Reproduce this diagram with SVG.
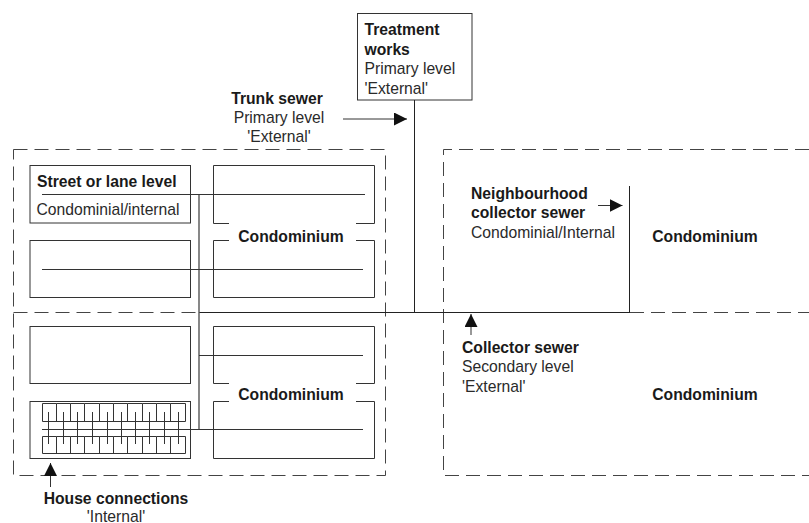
<svg xmlns="http://www.w3.org/2000/svg" width="809" height="523" viewBox="0 0 809 523">
<defs>
<style>
text{font-family:"Liberation Sans",Arial,sans-serif;font-size:15.7px;fill:#2a2a2a}
.b{font-weight:bold;fill:#1a1a1a}
.m{text-anchor:middle}
.box{fill:#fff;stroke:#333;stroke-width:1}
.open{fill:none;stroke:#333;stroke-width:1}
.dash{fill:none;stroke:#444;stroke-width:1;stroke-dasharray:14 7}
.pipe{fill:none;stroke:#222;stroke-width:1}
.thick{fill:none;stroke:#555;stroke-width:1.4}
.thin{fill:none;stroke:#333;stroke-width:1}
</style>
<marker id="arrow" markerUnits="userSpaceOnUse" markerWidth="14" markerHeight="14" refX="13" refY="6.5" orient="auto"><path d="M0,0L13,6.5L0,13Z" fill="#111"/></marker>
</defs>
<g id="zones">
<path class="dash" d="M13.500,149.500H385.500V475.500H13.500Z"/>
<path class="dash" d="M13.500,312.500H385.500"/>
<path class="dash" d="M809,149.500H443.500V475.500H809"/>
<path class="dash" d="M630,312.500H809"/>
</g>
<g id="street-top-left"><rect class="box" x="30" y="165.500" width="160.500" height="57.500"/><text class="b" x="37" y="186.500">Street or lane level</text><text x="36.500" y="215">Condominial/internal</text></g>
<g id="street-2"><rect class="box" x="30" y="240.500" width="160.500" height="57"/></g>
<g id="street-3"><rect class="box" x="30" y="326.500" width="160.500" height="57"/></g>
<g id="street-4"><rect class="box" x="30" y="401.500" width="160.500" height="57"/></g>
<g id="condo-a"><path class="open" d="M229,223.500H213.500V165.500H374.500V223.500H356"/><path class="open" d="M229,240.500H213.500V297.500H374.500V240.500H356"/><text class="b m" x="291" y="241.500">Condominium</text></g>
<g id="condo-b"><path class="open" d="M229,383.500H213.500V326.500H374.500V383.500H356"/><path class="open" d="M229,401.500H213.500V458.500H374.500V401.500H356"/><text class="b m" x="291" y="400">Condominium</text></g>
<g id="condo-c"><text class="b m" x="705" y="241.500">Condominium</text></g>
<g id="condo-d"><text class="b m" x="705" y="400">Condominium</text></g>
<g id="treatment"><rect class="box" x="357.500" y="13.500" width="114.500" height="86.500"/><text class="b" x="364.500" y="35">Treatment</text><text class="b" x="364.500" y="55">works</text><text x="364.500" y="74">Primary level</text><text x="364.500" y="94">'External'</text></g>
<g id="connectors">
<path class="pipe" d="M414.500,100V312.500"/>
<path class="pipe" d="M199,312.500H630"/>
<path class="pipe" d="M629.500,186V312.500"/>
<path class="thick" d="M199,194V429.500"/>
<path class="thin" d="M42,194.500H365"/>
<path class="thin" d="M42,269.500H363"/>
<path class="thin" d="M199,355.500H363"/>
<path class="thin" d="M42,429.500H363"/>
<path class="thin" d="M343,119H407" marker-end="url(#arrow)"/>
<path class="thin" d="M598,205.500H622.500" marker-end="url(#arrow)"/>
<path class="thin" d="M471,335V314" marker-end="url(#arrow)"/>
<path class="thin" d="M50.500,487V463" marker-end="url(#arrow)"/>
</g>
<g id="house-connections">
<path class="thin" d="M42.500,421.500V403.500H56.500V421.500M56.500,403.500H70.500V421.500M70.500,403.500H84.500V421.500M84.500,403.500H99.500V421.500M99.500,403.500H113.500V421.500M113.500,403.500H127.500V421.500M127.500,403.500H142.500V421.500M142.500,403.500H156.500V421.500M156.500,403.500H170.500V421.500M170.500,403.500H185.500V421.500H42.500"/>
<path class="thin" d="M42.500,436.500V453.500H185.500V436.500H170.500V453.500M170.500,436.500H156.500V453.500M156.500,436.500H142.500V453.500M142.500,436.500H127.500V453.500M127.500,436.500H113.500V453.500M113.500,436.500H99.500V453.500M99.500,436.500H84.500V453.500M84.500,436.500H70.500V453.500M70.500,436.500H56.500V453.500M56.500,436.500H42.500"/>
<path class="thin" d="M48.500,412V444M63.500,412V444M77.500,412V444M92.500,412V444M107.500,412V444M121.500,412V444M135.500,412V444M149.500,412V444M164.500,412V444M178.500,412V444"/>
</g>
<g id="labels">
<g id="trunk-label"><text class="b m" x="277" y="104">Trunk sewer</text><text class="m" x="279" y="123">Primary level</text><text class="m" x="279" y="142">'External'</text></g>
<g id="neighbourhood-label"><text class="b" x="471" y="199">Neighbourhood</text><text class="b" x="471" y="218">collector sewer</text><text x="471" y="238">Condominial/Internal</text></g>
<g id="collector-label"><text class="b" x="462" y="353">Collector sewer</text><text x="462" y="372">Secondary level</text><text x="462" y="392">'External'</text></g>
<g id="house-label"><text class="b m" x="116" y="504">House connections</text><text class="m" x="116" y="521.500">'Internal'</text></g>
</g>
</svg>
